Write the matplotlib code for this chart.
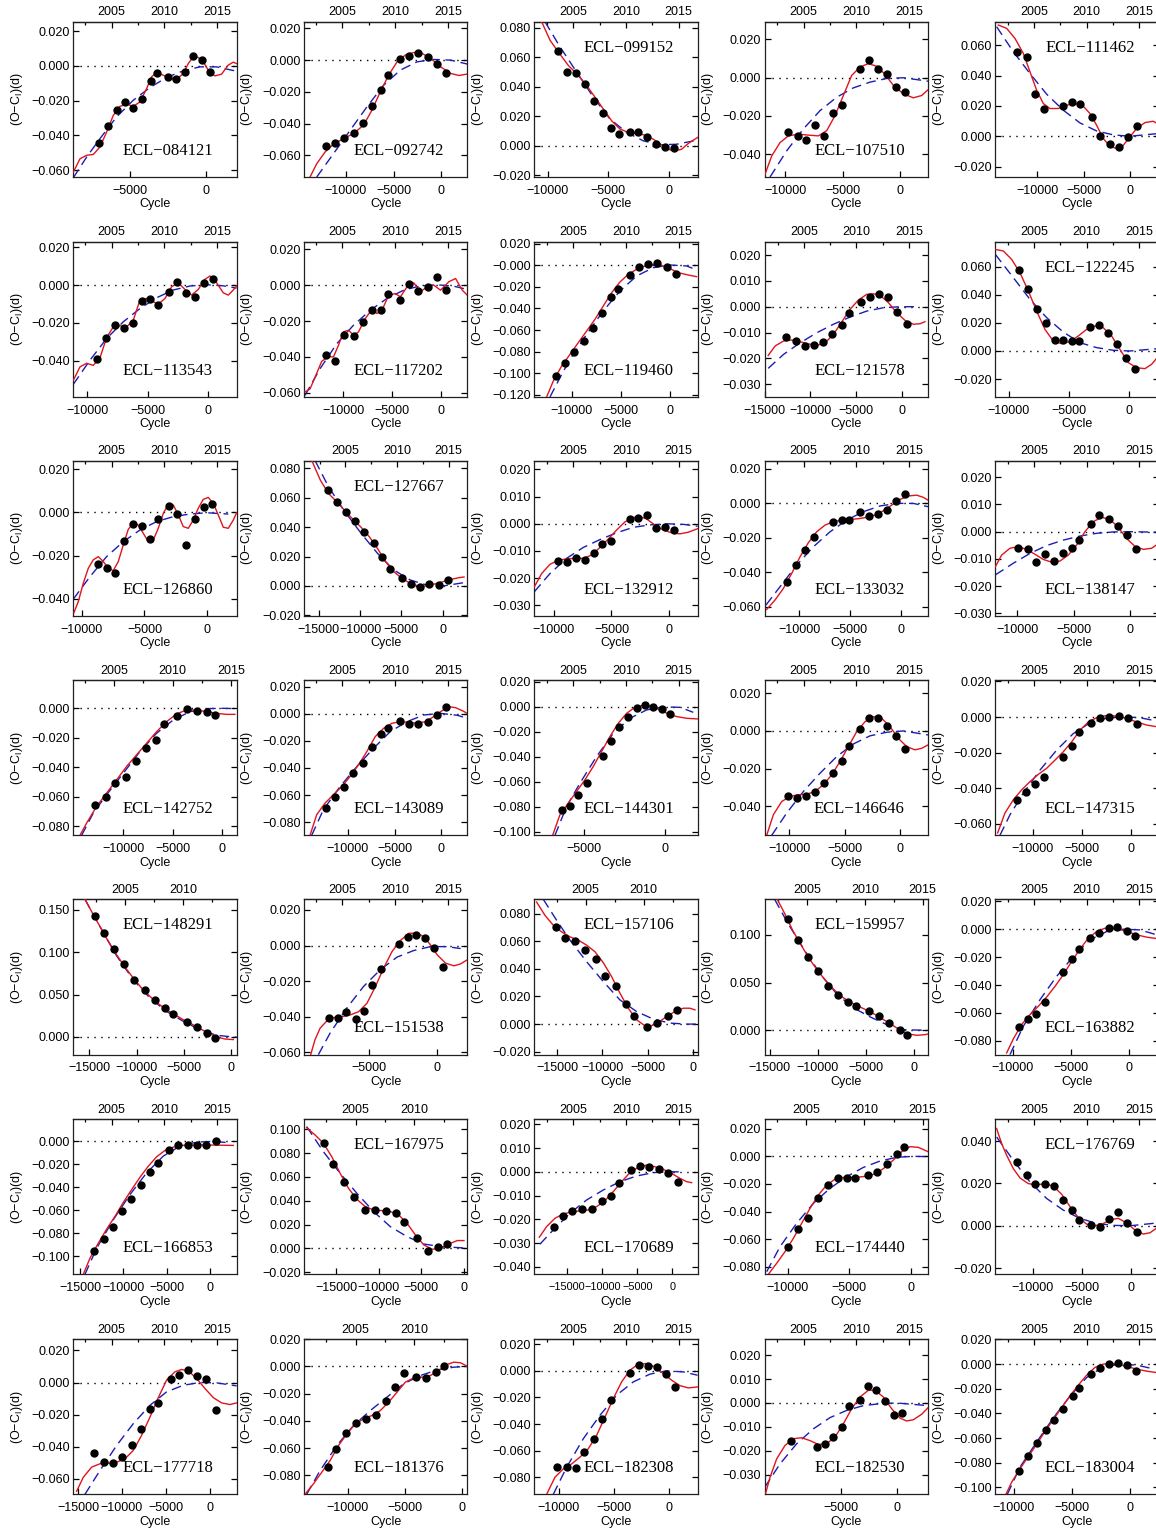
import numpy as np
import matplotlib
matplotlib.use("Agg")
import matplotlib.pyplot as plt
from matplotlib.ticker import MultipleLocator, FuncFormatter, FixedLocator

plt.rcParams.update({
    "font.family": "Liberation Sans",
    "font.size": 9,
    "mathtext.fontset": "custom",
    "mathtext.rm": "Liberation Sans",
    "mathtext.it": "Liberation Sans:italic",
    "axes.linewidth": 0.9,
    "axes.edgecolor": "#202020",
})

# ---- O-C data per star: O = observed minima (cycle, O-C d), R = full fit (red), B = quadratic (blue dashed)
O084121 = [(-7018,-0.0442),(-6425,-0.0344),(-5877,-0.0256),(-5329,-0.0208),(-4781,-0.0244),(-4232,-0.0190),(-3640,-0.0090),(-3202,-0.0042),(-2478,-0.0065),(-1952,-0.0077),(-1382,-0.0035),(-833,0.0056),(-285,0.0033),(263,-0.0035)]
R084121 = [(-8728,-0.0612),(-8289,-0.0535),(-7851,-0.0515),(-7412,-0.0510),(-6974,-0.0467),(-6535,-0.0381),(-6096,-0.0285),(-5658,-0.0233),(-5219,-0.0221),(-4781,-0.0233),(-4342,-0.0208),(-3904,-0.0131),(-3575,-0.0063),(-3246,-0.0038),(-2807,-0.0054),(-2368,-0.0073),(-1930,-0.0079),(-1491,-0.0044),(-1162,0.0013),(-833,0.0052),(-504,0.0048),(-175,0.0023),(154,-0.0025),(592,-0.0058),(1031,-0.0048),(1469,0.0004),(1798,0.0021),(2018,0.0013)]
B084121 = [(-8728,-0.0644),(-7851,-0.0525),(-6974,-0.0419),(-5877,-0.0294),(-4781,-0.0198),(-3684,-0.0125),(-2588,-0.0067),(-1491,-0.0029),(-395,-0.0006),(702,-0.0006),(2018,-0.0031)]

O092742 = [(-12106,-0.0541),(-11124,-0.0522),(-10176,-0.0490),(-9194,-0.0459),(-8246,-0.0398),(-7264,-0.0290),(-6316,-0.0189),(-5579,-0.0095),(-4281,0.0006),(-3334,0.0027),(-2386,0.0042),(-1404,0.0017),(-421,-0.0027),(526,-0.0080)]
R092742 = [(-13755,-0.0737),(-13053,-0.0653),(-12176,-0.0579),(-11299,-0.0530),(-10246,-0.0495),(-9194,-0.0463),(-8141,-0.0410),(-7264,-0.0316),(-6386,-0.0200),(-5509,-0.0095),(-4632,-0.0011),(-3754,0.0032),(-2877,0.0048),(-2000,0.0042),(-1123,0.0011),(-70,-0.0042),(983,-0.0084),(1860,-0.0097),(2737,-0.0088)]
B092742 = [(-13053,-0.0737),(-11299,-0.0590),(-9545,-0.0442),(-7790,-0.0295),(-6035,-0.0158),(-4281,-0.0063),(-2526,-0.0011),(-772,0.0004),(983,0.0000),(2737,-0.0025)]

O099152 = [(-9120,0.0641),(-8378,0.0498),(-7664,0.0493),(-6922,0.0420),(-6208,0.0307),(-5467,0.0223),(-4753,0.0118),(-4148,0.0080),(-3214,0.0091),(-2527,0.0091),(-1786,0.0061),(-1071,0.0011),(-330,-0.0005),(412,-0.0016)]
R099152 = [(-10494,0.0841),(-9807,0.0716),(-9120,0.0636),(-8296,0.0545),(-7472,0.0477),(-6785,0.0409),(-6098,0.0330),(-5412,0.0250),(-4725,0.0170),(-4038,0.0114),(-3351,0.0091),(-2665,0.0084),(-1978,0.0073),(-1291,0.0045),(-604,0.0007),(82,-0.0027),(494,-0.0034),(1044,-0.0023),(1593,0.0016),(2363,0.0057)]
B099152 = [(-10219,0.0841),(-8983,0.0671),(-7609,0.0500),(-6236,0.0330),(-4862,0.0182),(-3489,0.0091),(-2115,0.0034),(-742,0.0007),(632,0.0011),(2363,0.0039)]

O107510 = [(-9712,-0.0282),(-8900,-0.0305),(-8175,-0.0326),(-7363,-0.0246),(-6610,-0.0305),(-5798,-0.0182),(-5073,-0.0142),(-3479,0.0044),(-2725,0.0093),(-1942,0.0044),(-1160,0.0019),(-348,-0.0047),(406,-0.0072)]
R107510 = [(-11770,-0.0509),(-11161,-0.0409),(-10436,-0.0339),(-9712,-0.0304),(-8842,-0.0295),(-7972,-0.0300),(-7103,-0.0304),(-6378,-0.0277),(-5653,-0.0198),(-4928,-0.0093),(-4204,0.0012),(-3479,0.0056),(-2754,0.0074),(-2029,0.0060),(-1305,0.0018),(-580,-0.0040),(290,-0.0084),(1160,-0.0105),(1884,-0.0093),(2435,-0.0063)]
B107510 = [(-11306,-0.0519),(-9857,-0.0382),(-8407,-0.0268),(-6958,-0.0172),(-5508,-0.0102),(-4059,-0.0053),(-2609,-0.0023),(-1160,-0.0004),(290,0.0000),(2435,-0.0018)]

O111462 = [(-12158,0.0558),(-11151,0.0525),(-10251,0.0280),(-9244,0.0181),(-7194,0.0198),(-6223,0.0223),(-5431,0.0214),(-4137,0.0130),(-3237,0.0000),(-2158,-0.0048),(-1187,-0.0071),(-180,-0.0004),(719,0.0066)]
R111462 = [(-14208,0.0734),(-13309,0.0712),(-12410,0.0646),(-11510,0.0547),(-10791,0.0426),(-10072,0.0304),(-9352,0.0216),(-8633,0.0183),(-7734,0.0183),(-6834,0.0205),(-5935,0.0216),(-5036,0.0198),(-4316,0.0150),(-3597,0.0073),(-2878,-0.0015),(-2158,-0.0066),(-1439,-0.0082),(-719,-0.0060),(0,-0.0004),(719,0.0051),(1619,0.0090),(2518,0.0099),(3094,0.0079)]
B111462 = [(-14388,0.0723),(-12590,0.0558),(-10791,0.0414),(-8993,0.0278),(-7194,0.0172),(-5396,0.0088),(-3597,0.0035),(-1799,0.0009),(0,0.0000),(3094,0.0018)]

O113543 = [(-9202,-0.0390),(-8458,-0.0277),(-7686,-0.0212),(-6943,-0.0229),(-6254,-0.0199),(-5510,-0.0085),(-4794,-0.0074),(-4188,-0.0106),(-3278,-0.0035),(-2590,0.0014),(-1846,-0.0044),(-1074,-0.0064),(-358,0.0011),(358,0.0030)]
R113543 = [(-11157,-0.0503),(-10606,-0.0432),(-10056,-0.0413),(-9505,-0.0424),(-8954,-0.0385),(-8403,-0.0277),(-7852,-0.0221),(-7301,-0.0215),(-6750,-0.0221),(-6199,-0.0185),(-5648,-0.0079),(-5097,-0.0071),(-4546,-0.0088),(-4133,-0.0101),(-3582,-0.0071),(-3031,-0.0009),(-2480,0.0012),(-1929,-0.0023),(-1377,-0.0053),(-827,-0.0023),(-276,0.0030),(138,0.0048),(689,0.0012),(1240,-0.0041),(1653,-0.0053),(2066,-0.0026),(2342,-0.0005)]
B113543 = [(-11157,-0.0524),(-9780,-0.0397),(-8403,-0.0282),(-7025,-0.0194),(-5648,-0.0124),(-4270,-0.0067),(-2893,-0.0026),(-1515,-0.0005),(-138,0.0002),(1240,-0.0004),(2342,-0.0016)]

O117202 = [(-11827,-0.0387),(-10862,-0.0422),(-9930,-0.0275),(-8966,-0.0283),(-8034,-0.0208),(-7068,-0.0140),(-6137,-0.0140),(-5413,-0.0050),(-4138,-0.0084),(-3207,0.0004),(-2276,-0.0032),(-1310,-0.0013),(-379,0.0045),(586,-0.0028)]
R117202 = [(-13965,-0.0595),(-13448,-0.0578),(-12931,-0.0513),(-12241,-0.0424),(-11551,-0.0398),(-11034,-0.0400),(-10517,-0.0335),(-9999,-0.0260),(-9482,-0.0251),(-8965,-0.0279),(-8448,-0.0260),(-7758,-0.0186),(-7068,-0.0136),(-6551,-0.0158),(-6034,-0.0140),(-5344,-0.0056),(-4655,-0.0047),(-4138,-0.0065),(-3448,-0.0009),(-2758,0.0013),(-2069,-0.0037),(-1379,-0.0009),(-690,0.0000),(0,-0.0028),(862,0.0019),(1552,0.0037),(2241,-0.0028),(2759,-0.0056)]
B117202 = [(-13965,-0.0614),(-12413,-0.0465),(-10689,-0.0326),(-8965,-0.0223),(-7241,-0.0140),(-5517,-0.0074),(-3793,-0.0028),(-2069,-0.0004),(-345,0.0002),(1379,-0.0006),(2759,-0.0024)]

O119460 = [(-11631,-0.1026),(-10679,-0.0909),(-9761,-0.0801),(-8809,-0.0705),(-7890,-0.0578),(-6938,-0.0445),(-6020,-0.0297),(-5272,-0.0220),(-4081,-0.0093),(-3163,-0.0019),(-2211,0.0009),(-1292,0.0019),(-340,-0.0012),(578,-0.0077)]
R119460 = [(-12584,-0.1221),(-11903,-0.1073),(-11053,-0.0934),(-10203,-0.0826),(-9353,-0.0717),(-8503,-0.0609),(-7652,-0.0501),(-6802,-0.0377),(-5952,-0.0254),(-5102,-0.0155),(-4251,-0.0083),(-3401,-0.0037),(-2551,-0.0006),(-1701,0.0006),(-850,0.0000),(0,-0.0031),(850,-0.0068),(1871,-0.0090),(2721,-0.0105)]
B119460 = [(-12244,-0.1221),(-11224,-0.1042),(-10203,-0.0872),(-8503,-0.0640),(-6802,-0.0423),(-5102,-0.0238),(-3401,-0.0099),(-1701,-0.0022),(0,0.0003),(1701,-0.0006),(2823,-0.0046)]

O121578 = [(-12666,-0.0118),(-11607,-0.0132),(-10622,-0.0151),(-9600,-0.0149),(-8614,-0.0138),(-7592,-0.0107),(-6570,-0.0069),(-5804,-0.0023),(-4490,0.0019),(-3504,0.0039),(-2482,0.0050),(-1497,0.0039),(-475,-0.0022),(548,-0.0068)]
R121578 = [(-14637,-0.0189),(-13870,-0.0152),(-12958,-0.0133),(-12045,-0.0129),(-11133,-0.0136),(-10220,-0.0144),(-9308,-0.0150),(-8395,-0.0140),(-7483,-0.0107),(-6570,-0.0059),(-5658,-0.0010),(-4745,0.0026),(-3833,0.0048),(-3103,0.0050),(-2373,0.0044),(-1460,0.0016),(-548,-0.0023),(365,-0.0053),(1278,-0.0068),(2008,-0.0066),(2555,-0.0058)]
B121578 = [(-14637,-0.0239),(-12958,-0.0185),(-11133,-0.0140),(-9308,-0.0101),(-7483,-0.0068),(-5658,-0.0040),(-3833,-0.0017),(-2008,-0.0004),(-183,0.0000),(1643,0.0000)]

O122245 = [(-9169,0.0575),(-8393,0.0444),(-7673,0.0297),(-6897,0.0202),(-6205,0.0078),(-5485,0.0078),(-4764,0.0071),(-4155,0.0071),(-3241,0.0173),(-2521,0.0185),(-1773,0.0131),(-1053,0.0052),(-305,-0.0048),(443,-0.0131)]
R122245 = [(-11136,0.0724),(-10471,0.0713),(-9778,0.0653),(-9086,0.0558),(-8393,0.0428),(-7701,0.0285),(-7009,0.0154),(-6316,0.0071),(-5623,0.0052),(-4931,0.0067),(-4238,0.0107),(-3546,0.0154),(-2853,0.0178),(-2161,0.0166),(-1468,0.0107),(-776,0.0012),(-83,-0.0083),(609,-0.0119),(1302,-0.0126),(1856,-0.0095),(2438,-0.0036)]
B122245 = [(-11136,0.0689),(-9640,0.0523),(-8255,0.0368),(-6870,0.0238),(-5485,0.0135),(-4100,0.0059),(-2715,0.0024),(-1330,0.0005),(55,0.0000),(2438,0.0017)]

O126860 = [(-8728,-0.0237),(-8012,-0.0259),(-7322,-0.0279),(-6606,-0.0131),(-5943,-0.0052),(-5200,-0.0065),(-4537,-0.0123),(-3953,-0.0031),(-3077,0.0031),(-2414,-0.0008),(-1698,-0.0150),(-1008,-0.0031),(-292,0.0026),(398,0.0040)]
R126860 = [(-10610,-0.0464),(-10265,-0.0413),(-9867,-0.0328),(-9469,-0.0259),(-9073,-0.0220),(-8675,-0.0205),(-8277,-0.0228),(-7879,-0.0259),(-7481,-0.0270),(-7083,-0.0228),(-6686,-0.0151),(-6288,-0.0079),(-5890,-0.0048),(-5492,-0.0059),(-5094,-0.0097),(-4696,-0.0136),(-4298,-0.0128),(-3900,-0.0074),(-3502,-0.0005),(-3104,0.0037),(-2706,0.0034),(-2308,-0.0012),(-1910,-0.0066),(-1512,-0.0074),(-1114,-0.0036),(-716,0.0019),(-318,0.0060),(80,0.0069),(477,0.0042),(875,-0.0012),(1273,-0.0069),(1671,-0.0074),(2069,-0.0036),(2334,-0.0002)]
B126860 = [(-10663,-0.0402),(-9339,-0.0298),(-8012,-0.0205),(-6686,-0.0136),(-5359,-0.0082),(-4033,-0.0043),(-2706,-0.0020),(-1380,-0.0008),(-53,-0.0002),(1671,-0.0008)]

O127667 = [(-13933,0.0650),(-12749,0.0569),(-11683,0.0505),(-10578,0.0439),(-9473,0.0365),(-8368,0.0294),(-7302,0.0199),(-6434,0.0115),(-4934,0.0057),(-3829,0.0014),(-2802,-0.0005),(-1618,0.0011),(-513,0.0007),(592,0.0041)]
R127667 = [(-15828,0.0852),(-14801,0.0720),(-13815,0.0629),(-12828,0.0573),(-11841,0.0512),(-10854,0.0453),(-9868,0.0399),(-8881,0.0335),(-7894,0.0255),(-6907,0.0165),(-5921,0.0097),(-4934,0.0052),(-3947,0.0018),(-2960,0.0000),(-1974,0.0000),(-987,0.0014),(0,0.0029),(987,0.0045),(1974,0.0057),(2566,0.0061)]
B127667 = [(-15433,0.0852),(-13815,0.0675),(-11841,0.0505),(-9868,0.0358),(-7894,0.0222),(-5921,0.0109),(-3947,0.0041),(-1974,0.0007),(0,0.0000),(2566,0.0023)]

O132912 = [(-9654,-0.0136),(-8900,-0.0141),(-8088,-0.0125),(-7334,-0.0134),(-6552,-0.0109),(-5798,-0.0075),(-5015,-0.0065),(-3392,0.0018),(-2667,0.0023),(-1884,0.0032),(-1102,-0.0016),(-319,-0.0013),(435,-0.0023)]
R132912 = [(-11711,-0.0232),(-11074,-0.0183),(-10349,-0.0149),(-9625,-0.0134),(-8900,-0.0129),(-8175,-0.0127),(-7450,-0.0127),(-6726,-0.0115),(-6001,-0.0087),(-5276,-0.0056),(-4551,-0.0023),(-3827,0.0007),(-3102,0.0023),(-2522,0.0026),(-1942,0.0018),(-1218,-0.0005),(-493,-0.0023),(232,-0.0033),(957,-0.0037),(1681,-0.0031),(2493,-0.0018)]
B132912 = [(-11711,-0.0250),(-10349,-0.0183),(-8900,-0.0127),(-7450,-0.0087),(-6001,-0.0058),(-4551,-0.0033),(-3102,-0.0013),(-1652,-0.0004),(-203,0.0000),(1247,-0.0002),(2493,-0.0009)]

O133032 = [(-11214,-0.0455),(-10329,-0.0358),(-9444,-0.0273),(-8525,-0.0194),(-6689,-0.0110),(-5804,-0.0097),(-5082,-0.0097),(-4000,-0.0050),(-3115,-0.0074),(-2197,-0.0060),(-1312,-0.0037),(-459,0.0015),(459,0.0052)]
R133032 = [(-13183,-0.0616),(-12363,-0.0561),(-11543,-0.0494),(-10723,-0.0407),(-9903,-0.0310),(-9083,-0.0228),(-8263,-0.0165),(-7443,-0.0126),(-6624,-0.0106),(-5804,-0.0097),(-4984,-0.0093),(-4164,-0.0089),(-3345,-0.0081),(-2525,-0.0068),(-1705,-0.0043),(-885,-0.0010),(-66,0.0023),(754,0.0043),(1574,0.0048),(2230,0.0035),(2689,0.0019)]
B133032 = [(-13249,-0.0590),(-11871,-0.0484),(-10231,-0.0358),(-8591,-0.0252),(-6951,-0.0165),(-5312,-0.0097),(-3672,-0.0048),(-2033,-0.0015),(-393,0.0000),(1246,0.0000),(2689,-0.0019)]

O138147 = [(-9942,-0.0061),(-9084,-0.0062),(-8344,-0.0110),(-7516,-0.0083),(-6747,-0.0107),(-5948,-0.0077),(-5149,-0.0059),(-4498,-0.0029),(-3492,0.0028),(-2722,0.0061),(-1894,0.0047),(-1095,0.0020),(-296,-0.0013),(503,-0.0062)]
R138147 = [(-11953,-0.0129),(-11392,-0.0086),(-10652,-0.0061),(-9913,-0.0055),(-9173,-0.0065),(-8433,-0.0083),(-7693,-0.0102),(-6954,-0.0112),(-6214,-0.0108),(-5474,-0.0086),(-4734,-0.0049),(-3995,0.0000),(-3255,0.0037),(-2515,0.0053),(-1775,0.0045),(-1036,0.0016),(-296,-0.0025),(444,-0.0054),(1184,-0.0065),(1923,-0.0061),(2544,-0.0043)]
B138147 = [(-11953,-0.0159),(-10356,-0.0116),(-8877,-0.0080),(-7398,-0.0051),(-5918,-0.0031),(-4439,-0.0016),(-2959,-0.0006),(-1480,-0.0001),(0,0.0000),(2544,-0.0002)]

O142752 = [(-12836,-0.0658),(-11789,-0.0604),(-10810,-0.0505),(-9762,-0.0464),(-8749,-0.0356),(-7736,-0.0266),(-6722,-0.0214),(-5878,-0.0108),(-4527,-0.0052),(-3513,-0.0007),(-2500,-0.0016),(-1486,-0.0023),(-709,-0.0047)]
R142752 = [(-14391,-0.0861),(-13715,-0.0778),(-12702,-0.0665),(-11689,-0.0575),(-10675,-0.0485),(-9662,-0.0394),(-8648,-0.0315),(-7635,-0.0237),(-6621,-0.0158),(-5608,-0.0090),(-4594,-0.0038),(-3581,-0.0011),(-2567,-0.0011),(-1554,-0.0023),(-540,-0.0034),(473,-0.0041),(1317,-0.0041)]
B142752 = [(-14222,-0.0861),(-13040,-0.0710),(-11689,-0.0586),(-9999,-0.0440),(-8310,-0.0293),(-6621,-0.0169),(-4932,-0.0079),(-3243,-0.0023),(-1554,-0.0002),(135,0.0000),(1317,-0.0002)]

O143089 = [(-12365,-0.0699),(-11397,-0.0613),(-10394,-0.0544),(-9462,-0.0441),(-8422,-0.0363),(-7455,-0.0245),(-6451,-0.0147),(-5699,-0.0105),(-4372,-0.0054),(-3405,-0.0074),(-2437,-0.0078),(-1434,-0.0059),(-466,-0.0010),(538,0.0049)]
R143089 = [(-14049,-0.0897),(-13332,-0.0745),(-12436,-0.0659),(-11540,-0.0598),(-10644,-0.0537),(-9748,-0.0463),(-8852,-0.0377),(-7956,-0.0279),(-7060,-0.0169),(-6164,-0.0108),(-5268,-0.0071),(-4372,-0.0059),(-3476,-0.0064),(-2580,-0.0071),(-1684,-0.0059),(-789,-0.0022),(108,0.0022),(824,0.0051),(1541,0.0044),(2258,0.0022),(2796,0.0002)]
B143089 = [(-13870,-0.0897),(-12616,-0.0708),(-10824,-0.0537),(-9032,-0.0390),(-7240,-0.0255),(-5448,-0.0132),(-3656,-0.0059),(-1864,-0.0010),(-72,0.0002),(1720,-0.0012),(2796,-0.0034)]

O144301 = [(-6405,-0.0829),(-5909,-0.0795),(-5372,-0.0704),(-4855,-0.0608),(-3822,-0.0392),(-3326,-0.0272),(-2851,-0.0160),(-2273,-0.0080),(-1756,-0.0011),(-1240,0.0016),(-723,-0.0003),(-207,-0.0019),(310,-0.0056)]
R144301 = [(-6963,-0.1029),(-6508,-0.0864),(-5992,-0.0771),(-5475,-0.0677),(-4958,-0.0584),(-4442,-0.0477),(-3925,-0.0357),(-3409,-0.0237),(-2892,-0.0131),(-2376,-0.0051),(-1859,-0.0003),(-1343,0.0013),(-826,0.0003),(-310,-0.0024),(207,-0.0056),(723,-0.0077),(1343,-0.0091),(2025,-0.0096)]
B144301 = [(-6818,-0.1029),(-6095,-0.0797),(-5268,-0.0611),(-4235,-0.0397),(-3202,-0.0211),(-2169,-0.0091),(-1136,-0.0024),(-103,0.0000),(930,-0.0003),(1756,-0.0043)]

O146646 = [(-10150,-0.0344),(-9307,-0.0356),(-8524,-0.0345),(-7681,-0.0322),(-6867,-0.0278),(-6054,-0.0224),(-5241,-0.0159),(-4608,-0.0079),(-3584,0.0011),(-2771,0.0067),(-1958,0.0069),(-1175,0.0025),(-361,-0.0026),(452,-0.0097)]
R146646 = [(-12048,-0.0553),(-11446,-0.0444),(-10693,-0.0374),(-9940,-0.0347),(-9187,-0.0338),(-8434,-0.0335),(-7681,-0.0321),(-6928,-0.0285),(-6175,-0.0233),(-5422,-0.0162),(-4669,-0.0083),(-3916,-0.0004),(-3163,0.0049),(-2410,0.0076),(-1657,0.0067),(-904,0.0023),(-151,-0.0039),(602,-0.0083),(1355,-0.0100),(1958,-0.0092),(2530,-0.0074)]
B146646 = [(-11597,-0.0553),(-10241,-0.0435),(-8735,-0.0321),(-7229,-0.0224),(-5723,-0.0136),(-4217,-0.0069),(-2711,-0.0026),(-1205,-0.0007),(301,0.0000),(2530,-0.0021)]

O147315 = [(-11594,-0.0465),(-10645,-0.0420),(-9797,-0.0375),(-8814,-0.0335),(-6950,-0.0223),(-6034,-0.0160),(-5255,-0.0084),(-4102,-0.0033),(-3153,-0.0004),(-2204,0.0002),(-1254,0.0007),(-305,-0.0004),(576,-0.0039)]
R147315 = [(-13560,-0.0651),(-12814,-0.0539),(-11967,-0.0465),(-11119,-0.0409),(-10272,-0.0363),(-9424,-0.0322),(-8577,-0.0288),(-7729,-0.0242),(-6882,-0.0195),(-6034,-0.0140),(-5187,-0.0074),(-4339,-0.0028),(-3492,-0.0004),(-2644,0.0007),(-1797,0.0007),(-949,0.0000),(-102,-0.0015),(746,-0.0030),(1593,-0.0045),(2814,-0.0056)]
B147315 = [(-13323,-0.0664),(-12306,-0.0549),(-10950,-0.0428),(-9255,-0.0298),(-7560,-0.0186),(-5865,-0.0093),(-4170,-0.0033),(-2475,-0.0006),(-780,0.0002),(915,-0.0004),(2610,-0.0022)]

O148291 = [(-14436,0.1422),(-13450,0.1233),(-12429,0.1040),(-11338,0.0860),(-10246,0.0675),(-9155,0.0550),(-8063,0.0440),(-6972,0.0346),(-6197,0.0275),(-4718,0.0173),(-3662,0.0118),(-2606,0.0047),(-1725,-0.0008)]
R148291 = [(-15457,0.1625),(-14753,0.1480),(-13873,0.1304),(-12993,0.1127),(-12112,0.0970),(-11232,0.0825),(-10352,0.0695),(-9472,0.0577),(-8591,0.0479),(-7711,0.0393),(-6831,0.0322),(-5950,0.0263),(-5070,0.0204),(-4190,0.0153),(-3310,0.0098),(-2430,0.0047),(-1549,0.0000),(-669,-0.0024),(211,-0.0031)]
B148291 = [(-15457,0.1625),(-13873,0.1304),(-12112,0.0958),(-10352,0.0675),(-8591,0.0459),(-6831,0.0302),(-5070,0.0185),(-3310,0.0086),(-1549,0.0020),(211,0.0000),(563,0.0000)]

O151538 = [(-7955,-0.0407),(-7315,-0.0407),(-6699,-0.0376),(-6010,-0.0413),(-5419,-0.0366),(-4778,-0.0222),(-4138,-0.0133),(-2783,0.0007),(-2167,0.0047),(-1527,0.0058),(-911,0.0043),(-246,-0.0013),(394,-0.0118)]
R151538 = [(-9310,-0.0613),(-8990,-0.0529),(-8621,-0.0465),(-8128,-0.0424),(-7636,-0.0405),(-7020,-0.0400),(-6404,-0.0390),(-5789,-0.0372),(-5173,-0.0325),(-4557,-0.0232),(-3941,-0.0127),(-3325,-0.0034),(-2709,0.0028),(-2093,0.0069),(-1478,0.0069),(-985,0.0050),(-493,0.0004),(0,-0.0052),(616,-0.0099),(1232,-0.0114),(1724,-0.0103),(2217,-0.0080)]
B151538 = [(-8744,-0.0613),(-7882,-0.0492),(-6650,-0.0351),(-5419,-0.0230),(-4187,-0.0136),(-2956,-0.0065),(-1724,-0.0028),(-493,-0.0006),(739,-0.0006),(1724,-0.0017)]

O157106 = [(-15150,0.0700),(-14189,0.0625),(-13043,0.0601),(-11935,0.0534),(-10752,0.0471),(-9681,0.0346),(-8499,0.0276),(-7390,0.0142),(-6503,0.0060),(-5025,-0.0024),(-3917,0.0005),(-2771,0.0058),(-1774,0.0101)]
R157106 = [(-17293,0.0884),(-16369,0.0788),(-15445,0.0716),(-14521,0.0668),(-13598,0.0632),(-12674,0.0608),(-11750,0.0572),(-10826,0.0524),(-9903,0.0445),(-8979,0.0344),(-8055,0.0224),(-7131,0.0115),(-6208,0.0031),(-5284,-0.0012),(-4545,-0.0012),(-3806,0.0012),(-2882,0.0055),(-1958,0.0091),(-1035,0.0115),(-296,0.0115),(259,0.0103)]
B157106 = [(-16554,0.0904),(-15076,0.0752),(-13598,0.0608),(-11750,0.0452),(-9903,0.0308),(-8055,0.0175),(-6208,0.0091),(-4360,0.0036),(-2513,0.0007),(-665,0.0000),(443,0.0000)]

O159957 = [(-13110,0.1171),(-12081,0.0944),(-11017,0.0770),(-9987,0.0617),(-8923,0.0467),(-7859,0.0373),(-6830,0.0296),(-6006,0.0254),(-4633,0.0206),(-3604,0.0146),(-2608,0.0077),(-1510,0.0000),(-755,-0.0052)]
R159957 = [(-14208,0.1373),(-13454,0.1227),(-12595,0.1045),(-11737,0.0895),(-10879,0.0749),(-10021,0.0627),(-9163,0.0519),(-8305,0.0425),(-7447,0.0348),(-6589,0.0293),(-5731,0.0251),(-4873,0.0209),(-4015,0.0164),(-3157,0.0111),(-2299,0.0059),(-1441,0.0000),(-583,-0.0038),(275,-0.0052),(1133,-0.0045),(1441,-0.0038)]
B159957 = [(-14483,0.1373),(-13110,0.1122),(-11394,0.0843),(-9678,0.0582),(-7962,0.0373),(-6246,0.0233),(-4530,0.0139),(-2814,0.0059),(-1098,0.0007),(1441,0.0000)]

O163882 = [(-9485,-0.0698),(-8714,-0.0643),(-7971,-0.0610),(-7200,-0.0519),(-5685,-0.0310),(-4914,-0.0210),(-4286,-0.0143),(-3343,-0.0064),(-2571,-0.0029),(-1771,0.0007),(-1029,0.0014),(-229,-0.0012),(486,-0.0048)]
R163882 = [(-10514,-0.0886),(-9942,-0.0786),(-9228,-0.0683),(-8514,-0.0612),(-7800,-0.0552),(-7085,-0.0486),(-6371,-0.0410),(-5657,-0.0326),(-4943,-0.0231),(-4228,-0.0143),(-3514,-0.0064),(-2800,-0.0017),(-2086,0.0007),(-1371,0.0007),(-657,-0.0005),(57,-0.0024),(771,-0.0043),(1486,-0.0057),(2514,-0.0069)]
B163882 = [(-10228,-0.0898),(-9085,-0.0695),(-7657,-0.0505),(-6228,-0.0338),(-4800,-0.0195),(-3371,-0.0076),(-1943,-0.0017),(-514,0.0000),(914,-0.0005),(2343,-0.0040)]

O166853 = [(-13346,-0.0956),(-12269,-0.0848),(-11231,-0.0749),(-10153,-0.0609),(-9077,-0.0498),(-7961,-0.0382),(-6923,-0.0268),(-6000,-0.0187),(-4692,-0.0079),(-3654,-0.0032),(-2577,-0.0029),(-1500,-0.0032),(-423,-0.0032),(692,0.0000)]
R166853 = [(-14615,-0.1157),(-13846,-0.1017),(-12884,-0.0886),(-11923,-0.0764),(-10961,-0.0653),(-10000,-0.0531),(-9038,-0.0420),(-8077,-0.0312),(-7115,-0.0216),(-6154,-0.0134),(-5192,-0.0079),(-4231,-0.0050),(-3269,-0.0035),(-2308,-0.0032),(-1154,-0.0032),(385,-0.0032),(2692,-0.0035)]
B166853 = [(-14423,-0.1157),(-13077,-0.0930),(-11154,-0.0682),(-9231,-0.0463),(-7308,-0.0274),(-5385,-0.0128),(-3461,-0.0041),(-1538,-0.0006),(385,0.0000),(2308,-0.0012)]

O167975 = [(-16394,0.0886),(-15335,0.0712),(-14080,0.0555),(-12864,0.0435),(-11609,0.0320),(-10393,0.0323),(-9177,0.0317),(-7961,0.0295),(-7020,0.0222),(-5452,0.0084),(-4236,-0.0022),(-3059,0.0011),(-2039,0.0039)]
R167975 = [(-18433,0.1015),(-17453,0.0954),(-16472,0.0884),(-15492,0.0771),(-14511,0.0631),(-13531,0.0505),(-12550,0.0412),(-11570,0.0351),(-10589,0.0323),(-9609,0.0317),(-8628,0.0309),(-7648,0.0281),(-6667,0.0210),(-5687,0.0112),(-4706,0.0028),(-3726,-0.0008),(-2745,-0.0003),(-1765,0.0036),(-784,0.0065),(0,0.0065)]
B167975 = [(-18433,0.1024),(-16472,0.0813),(-14511,0.0631),(-12550,0.0463),(-10589,0.0309),(-8628,0.0182),(-6667,0.0098),(-4706,0.0036),(-2745,0.0014),(0,0.0003)]

O170689 = [(-16905,-0.0230),(-15572,-0.0185),(-14286,-0.0163),(-12857,-0.0157),(-11476,-0.0157),(-10095,-0.0122),(-8762,-0.0101),(-7667,-0.0046),(-5952,0.0008),(-4667,0.0025),(-3286,0.0020),(-1952,0.0014),(-571,-0.0004),(810,-0.0043)]
R170689 = [(-19000,-0.0275),(-17953,-0.0230),(-16762,-0.0195),(-15572,-0.0177),(-14381,-0.0168),(-13191,-0.0164),(-12000,-0.0160),(-10810,-0.0146),(-9619,-0.0121),(-8429,-0.0083),(-7238,-0.0041),(-6048,-0.0003),(-4857,0.0020),(-3667,0.0029),(-2476,0.0022),(-1286,0.0011),(-95,-0.0006),(1095,-0.0027),(2048,-0.0041),(2762,-0.0045)]
B170689 = [(-18905,-0.0304),(-17000,-0.0244),(-14619,-0.0174),(-12238,-0.0118),(-9857,-0.0076),(-7476,-0.0041),(-5095,-0.0017),(-2714,-0.0003),(-333,0.0001),(1571,0.0000)]

O174440 = [(-9946,-0.0656),(-9133,-0.0525),(-8347,-0.0443),(-7534,-0.0304),(-6748,-0.0210),(-5935,-0.0154),(-5149,-0.0159),(-4526,-0.0159),(-3496,-0.0137),(-2710,-0.0113),(-1924,-0.0058),(-1138,0.0014),(-569,0.0070)]
R174440 = [(-11572,-0.0853),(-10894,-0.0773),(-10217,-0.0689),(-9539,-0.0593),(-8862,-0.0484),(-8184,-0.0376),(-7507,-0.0280),(-6829,-0.0207),(-6152,-0.0166),(-5474,-0.0152),(-4797,-0.0152),(-4119,-0.0149),(-3442,-0.0142),(-2764,-0.0123),(-2087,-0.0080),(-1409,-0.0027),(-732,0.0034),(-54,0.0070),(623,0.0065),(1409,0.0034)]
B174440 = [(-11707,-0.0834),(-10623,-0.0653),(-9268,-0.0484),(-7913,-0.0340),(-6558,-0.0231),(-5203,-0.0147),(-3848,-0.0080),(-2493,-0.0034),(-1138,-0.0007),(217,0.0000),(1409,-0.0002)]

O176769 = [(-11560,0.0302),(-10611,0.0239),(-9729,0.0196),(-8780,0.0199),(-7865,0.0186),(-6950,0.0124),(-6034,0.0074),(-5288,0.0027),(-4068,0.0003),(-3153,-0.0005),(-2237,0.0030),(-1288,0.0064),(-373,0.0014),(576,-0.0031)]
R176769 = [(-13662,0.0459),(-13153,0.0388),(-12645,0.0333),(-11967,0.0270),(-11289,0.0226),(-10441,0.0199),(-9594,0.0193),(-8746,0.0199),(-7899,0.0187),(-7051,0.0149),(-6204,0.0091),(-5356,0.0039),(-4509,0.0008),(-3661,0.0000),(-2814,0.0011),(-1966,0.0030),(-1288,0.0035),(-441,0.0014),(407,-0.0020),(1254,-0.0039),(1932,-0.0033),(2814,-0.0005)]
B176769 = [(-13662,0.0419),(-11967,0.0309),(-10272,0.0207),(-8577,0.0129),(-6882,0.0074),(-5187,0.0035),(-3492,0.0011),(-1797,0.0002),(-102,0.0000),(2814,0.0014)]

O177718 = [(-13144,-0.0440),(-12084,-0.0496),(-11023,-0.0500),(-9962,-0.0464),(-8902,-0.0387),(-7841,-0.0289),(-6781,-0.0162),(-5947,-0.0127),(-4432,0.0025),(-3561,0.0046),(-2462,0.0077),(-1439,0.0040),(-417,0.0019),(682,-0.0169)]
R177718 = [(-15152,-0.0677),(-14394,-0.0590),(-13447,-0.0527),(-12500,-0.0506),(-11553,-0.0502),(-10606,-0.0496),(-9659,-0.0475),(-8712,-0.0423),(-7765,-0.0329),(-6818,-0.0215),(-5871,-0.0094),(-4924,0.0015),(-3977,0.0067),(-3220,0.0081),(-2462,0.0073),(-1515,0.0025),(-568,-0.0037),(379,-0.0094),(1326,-0.0127),(2273,-0.0137),(3030,-0.0127)]
B177718 = [(-14205,-0.0696),(-12500,-0.0548),(-10606,-0.0392),(-8712,-0.0256),(-6818,-0.0142),(-4924,-0.0058),(-3030,-0.0017),(-1136,0.0000),(758,-0.0002),(3030,-0.0021)]

O181376 = [(-11755,-0.0740),(-11023,-0.0605),(-10146,-0.0490),(-9269,-0.0414),(-8392,-0.0385),(-7515,-0.0355),(-6637,-0.0255),(-5848,-0.0154),(-5117,-0.0049),(-4035,-0.0078),(-3129,-0.0088),(-2281,-0.0042),(-1579,0.0007)]
R181376 = [(-13743,-0.0939),(-13012,-0.0863),(-12281,-0.0777),(-11550,-0.0691),(-10819,-0.0581),(-10088,-0.0495),(-9357,-0.0422),(-8626,-0.0385),(-7895,-0.0360),(-7164,-0.0324),(-6433,-0.0262),(-5702,-0.0189),(-4971,-0.0115),(-4240,-0.0083),(-3509,-0.0078),(-2778,-0.0066),(-2047,-0.0029),(-1316,0.0015),(-731,0.0032),(-146,0.0027),(439,0.0002)]
B181376 = [(-13597,-0.0939),(-12428,-0.0765),(-10965,-0.0581),(-9503,-0.0434),(-8041,-0.0324),(-6579,-0.0225),(-5117,-0.0127),(-3655,-0.0066),(-2193,-0.0025),(-731,-0.0005),(439,0.0000)]

O182308 = [(-10151,-0.0719),(-9305,-0.0724),(-8459,-0.0729),(-7704,-0.0606),(-6858,-0.0515),(-6072,-0.0364),(-5256,-0.0216),(-3565,-0.0013),(-2779,0.0045),(-1964,0.0038),(-1148,0.0028),(-302,-0.0025),(514,-0.0118)]
R182308 = [(-11117,-0.0927),(-10362,-0.0799),(-9606,-0.0736),(-8851,-0.0699),(-8096,-0.0648),(-7341,-0.0585),(-6586,-0.0485),(-5830,-0.0347),(-5075,-0.0208),(-4320,-0.0083),(-3565,0.0005),(-2809,0.0050),(-2054,0.0055),(-1299,0.0030),(-544,-0.0020),(211,-0.0070),(967,-0.0111),(1722,-0.0128),(2568,-0.0121)]
B182308 = [(-10513,-0.0927),(-9305,-0.0724),(-7794,-0.0510),(-6284,-0.0334),(-4773,-0.0183),(-3263,-0.0083),(-1752,-0.0025),(-242,0.0000),(1269,-0.0008),(2568,-0.0033)]

O182530 = [(-9434,-0.0159),(-7142,-0.0184),(-6428,-0.0172),(-5654,-0.0142),(-4910,-0.0101),(-4285,-0.0014),(-3274,0.0014),(-2530,0.0070),(-1815,0.0056),(-1042,0.0007),(-268,-0.0052),(506,-0.0043)]
R182530 = [(-11726,-0.0381),(-11310,-0.0310),(-10714,-0.0233),(-9970,-0.0177),(-9226,-0.0149),(-8482,-0.0145),(-7738,-0.0157),(-6994,-0.0173),(-6250,-0.0170),(-5506,-0.0142),(-4762,-0.0087),(-4018,-0.0024),(-3274,0.0025),(-2530,0.0053),(-1934,0.0053),(-1190,0.0025),(-446,-0.0024),(298,-0.0063),(893,-0.0075),(1488,-0.0070),(2232,-0.0047),(2798,-0.0020)]
B182530 = [(-11786,-0.0352),(-10417,-0.0254),(-8929,-0.0170),(-7440,-0.0108),(-5952,-0.0061),(-4464,-0.0031),(-2976,-0.0011),(-1488,-0.0003),(0,0.0000),(2798,-0.0011)]

O183004 = [(-9599,-0.0864),(-8794,-0.0750),(-8047,-0.0644),(-7271,-0.0533),(-6524,-0.0451),(-5748,-0.0361),(-4943,-0.0258),(-4368,-0.0190),(-3391,-0.0084),(-2615,-0.0033),(-1839,0.0003),(-1063,0.0011),(-287,-0.0008),(489,-0.0054)]
R183004 = [(-10691,-0.1057),(-10203,-0.0959),(-9484,-0.0850),(-8766,-0.0750),(-8047,-0.0652),(-7329,-0.0546),(-6610,-0.0451),(-5892,-0.0353),(-5173,-0.0258),(-4455,-0.0171),(-3736,-0.0090),(-3018,-0.0027),(-2299,0.0000),(-1581,0.0005),(-862,-0.0005),(-144,-0.0022),(575,-0.0041),(1437,-0.0057),(2471,-0.0071)]
B183004 = [(-10576,-0.1057),(-9484,-0.0837),(-8047,-0.0633),(-6610,-0.0437),(-5173,-0.0261),(-3736,-0.0109),(-2299,-0.0022),(-862,0.0000),(575,-0.0008),(1868,-0.0035)]

STARS = ["084121", "092742", "099152", "107510", "111462",
         "113543", "117202", "119460", "121578", "122245",
         "126860", "127667", "132912", "133032", "138147",
         "142752", "143089", "144301", "146646", "147315",
         "148291", "151538", "157106", "159957", "163882",
         "166853", "167975", "170689", "174440", "176769",
         "177718", "181376", "182308", "182530", "183004"]
OBS = [O084121, O092742, O099152, O107510, O111462, O113543, O117202, O119460, O121578, O122245,
       O126860, O127667, O132912, O133032, O138147, O142752, O143089, O144301, O146646, O147315,
       O148291, O151538, O157106, O159957, O163882, O166853, O167975, O170689, O174440, O176769,
       O177718, O181376, O182308, O182530, O183004]
RED = [R084121, R092742, R099152, R107510, R111462, R113543, R117202, R119460, R121578, R122245,
       R126860, R127667, R132912, R133032, R138147, R142752, R143089, R144301, R146646, R147315,
       R148291, R151538, R157106, R159957, R163882, R166853, R167975, R170689, R174440, R176769,
       R177718, R181376, R182308, R182530, R183004]
BLUE = [B084121, B092742, B099152, B107510, B111462, B113543, B117202, B119460, B121578, B122245,
        B126860, B127667, B132912, B133032, B138147, B142752, B143089, B144301, B146646, B147315,
        B148291, B151538, B157106, B159957, B163882, B166853, B167975, B170689, B174440, B176769,
        B177718, B181376, B182308, B182530, B183004]

# axis ranges, y tick step, cycle numbers of the 2005 / 2010 epochs (top axis)
XLIM = [(-8730, 2020), (-14390, 2740), (-11099, 2363), (-11770, 2435), (-14532, 3094),
        (-11157, 2342), (-14069, 2759), (-13842, 2823), (-15020, 2884), (-11136, 2438),
        (-10663, 2334), (-16776, 2960), (-11711, 2493), (-13380, 2689), (-11953, 2544),
        (-15066, 1486), (-14694, 2796), (-8099, 2025), (-12229, 2530), (-13797, 2814),
        (-16690, 563), (-9803, 2217), (-17551, 554), (-15513, 1441), (-11486, 2514),
        (-15769, 3077), (-18745, 392), (-19714, 3619), (-11870, 1409), (-13797, 2814),
        (-15530, 3030), (-13831, 439), (-12235, 2568), (-11786, 2798), (-11611, 2471)]
YLIM = [(-0.0640, 0.0254), (-0.0737, 0.0242), (-0.0211, 0.0841), (-0.0519, 0.0293), (-0.0269, 0.0756),
        (-0.0591, 0.0229), (-0.0623, 0.0242), (-0.1221, 0.0219), (-0.0350, 0.0252), (-0.0328, 0.0779),
        (-0.0480, 0.0239), (-0.0204, 0.0852), (-0.0339, 0.0232), (-0.0654, 0.0248), (-0.0310, 0.0261),
        (-0.0861, 0.0192), (-0.0897, 0.0248), (-0.1029, 0.0216), (-0.0553, 0.0270), (-0.0664, 0.0208),
        (-0.0208, 0.1625), (-0.0613, 0.0260), (-0.0221, 0.0904), (-0.0254, 0.1373), (-0.0898, 0.0214),
        (-0.1157, 0.0195), (-0.0219, 0.1088), (-0.0431, 0.0223), (-0.0853, 0.0270), (-0.0229, 0.0504),
        (-0.0696, 0.0271), (-0.0939, 0.0202), (-0.0927, 0.0239), (-0.0381, 0.0267), (-0.1057, 0.0204)]
YSTEP = [0.02, 0.02, 0.02, 0.02, 0.02,
         0.02, 0.02, 0.02, 0.01, 0.02,
         0.02, 0.02, 0.01, 0.02, 0.01,
         0.02, 0.02, 0.02, 0.02, 0.02,
         0.05, 0.02, 0.02, 0.05, 0.02,
         0.02, 0.02, 0.01, 0.02, 0.02,
         0.02, 0.02, 0.02, 0.01, 0.02]
EPOCHS = [(-6206, -2741), (-10352, -4807), (-7884, -3544), (-8378, -3798), (-10323, -4676),
          (-7990, -3637), (-10103, -4655), (-9863, -4489), (-10731, -4964), (-7895, -3546),
          (-7614, -3422), (-11762, -5526), (-8320, -3740), (-9542, -4361), (-8492, -3847),
          (-10911, -4999), (-10573, -4910), (-5682, -2417), (-8705, -3946), (-9831, -4509),
          (-11232, -5070), (-6970, -3079), (-11861, -5432), (-11120, -5114), (-8142, -3657),
          (-11346, -5269), (-12707, -5805), (-14143, -6619), (-8509, -3767), (-9831, -4509),
          (-11175, -5190), (-9328, -4181), (-8700, -3927), (-8303, -3601), (-8248, -3736)]
LABEL_TOP = [False, False, True, False, True,
             False, False, False, False, True,
             False, True, False, False, False,
             False, False, False, False, False,
             True, False, True, True, False,
             False, True, False, False, True,
             False, False, False, False, False]
ZERO_TEXT = ["0.000"] * 35
ZERO_TEXT[7] = "\u22120.000"
XTICKS = [None] * 35
XTICKS[15] = [-10000, -5000, 0]   # edge tick at -15000 left unlabeled
XTICKS[33] = [-5000, 0]           # only two cycle labels on ECL-182530
XTICK_SIZE = [9] * 35
XTICK_SIZE[27] = 7.8              # crowded cycle axis of ECL-170689

W, H = 1156.0, 1529.0
COL_LEFT = [73.3, 304.0, 534.3, 764.7, 995.3]
ROW_TOP = [21.7, 241.7, 460.7, 680.0, 899.3, 1119.0, 1339.0]
AW, AH = 163.3, 155.3

fig = plt.figure(figsize=(W / 100, H / 100), dpi=100)


def yfmt(zero):
    def f(v, pos):
        if abs(v) < 1e-9:
            return zero
        return ("%.3f" % v).replace("-", "\u2212")
    return FuncFormatter(f)


xfmt = FuncFormatter(lambda v, p: ("%d" % round(v)).replace("-", "\u2212"))

for i, star in enumerate(STARS):
    r, c = divmod(i, 5)
    ax = fig.add_axes([COL_LEFT[c] / W, 1 - (ROW_TOP[r] + AH) / H, AW / W, AH / H])

    ax.axhline(0, color="black", lw=1.0, ls=(0, (1, 4)), zorder=1)
    b = np.array(BLUE[i])
    ax.plot(b[:, 0], b[:, 1], color="#1c1cb4", lw=1.0, dashes=(7, 4), zorder=2)
    rr = np.array(RED[i])
    ax.plot(rr[:, 0], rr[:, 1], color="#e0141e", lw=1.0, zorder=3)
    o = np.array(OBS[i])
    ax.plot(o[:, 0], o[:, 1], "o", color="black", ms=5, zorder=4)

    ax.set_xlim(*XLIM[i])
    ax.set_ylim(*YLIM[i])
    if XTICKS[i] is None:
        ax.xaxis.set_major_locator(MultipleLocator(5000))
    else:
        ax.xaxis.set_major_locator(FixedLocator(XTICKS[i]))
    ax.yaxis.set_major_locator(MultipleLocator(YSTEP[i]))
    ax.xaxis.set_major_formatter(xfmt)
    ax.yaxis.set_major_formatter(yfmt(ZERO_TEXT[i]))
    ax.tick_params(which="major", direction="in", length=4, width=0.9,
                   top=False, right=True, labelsize=9)
    ax.tick_params(axis="y", pad=2.5)
    ax.tick_params(axis="x", pad=5.5, labelsize=XTICK_SIZE[i])

    c05, c10 = EPOCHS[i]
    k = (c10 - c05) / 5.0
    sec = ax.secondary_xaxis("top", functions=(lambda x, c05=c05, k=k: 2005 + (x - c05) / k,
                                                lambda y, c05=c05, k=k: c05 + (y - 2005) * k))
    sec.xaxis.set_major_locator(FixedLocator([2005, 2010, 2015]))
    sec.xaxis.set_minor_locator(MultipleLocator(2.5))
    sec.xaxis.set_major_formatter(FuncFormatter(lambda v, p: "%d" % round(v)))
    sec.tick_params(which="both", direction="in", width=0.9)
    sec.tick_params(which="major", length=4, pad=2.5, labelsize=9)
    sec.tick_params(which="minor", length=2)

    ax.set_xlabel("Cycle", fontsize=9)
    ax.xaxis.set_label_coords(0.5, -0.176)
    ax.xaxis.label.set_va("center")
    ax.set_ylabel("(O\u2212C$_\\mathrm{I}$)(d)", fontsize=9)
    ax.yaxis.set_label_coords(-0.347, 0.5)
    ax.yaxis.label.set_va("center")

    ax.text(0.58, 0.833 if LABEL_TOP[i] else 0.17, "ECL\u2212" + star,
            transform=ax.transAxes, ha="center", va="center",
            family="Liberation Serif", fontsize=12)

fig.savefig("out.png", dpi=100)
